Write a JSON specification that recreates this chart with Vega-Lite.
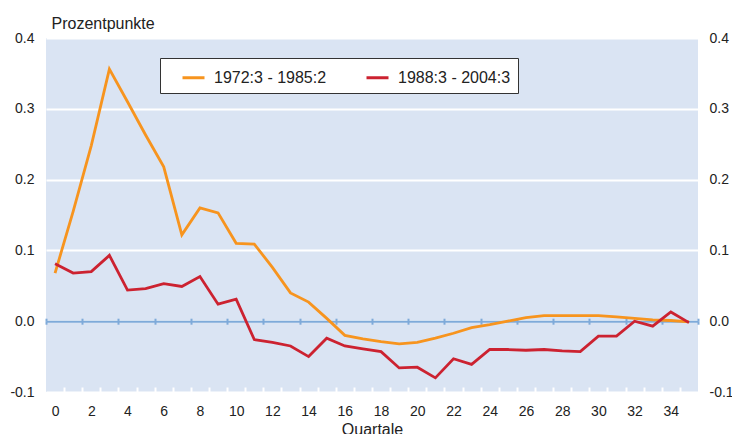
{
  "$schema": "https://vega.github.io/schema/vega-lite/v6.json",
  "width": 652,
  "height": 354,
  "autosize": "none",
  "padding": {"left": 46, "top": 38, "right": 34, "bottom": 42},
  "background": "white",
  "config": {
    "view": {"fill": "#dae4f3", "stroke": null},
    "font": "Liberation Sans",
    "axis": {"labelFont": "Liberation Sans", "labelFontSize": 14, "labelColor": "#222", "titleFont": "Liberation Sans", "titleFontSize": 16, "titleFontWeight": "normal", "titleColor": "#222"},
    "legend": {"labelFont": "Liberation Sans", "labelFontSize": 16, "labelColor": "#222"}
  },
  "data": {
    "values": [
      {"q": 0, "v": 0.068, "s": "1972:3 - 1985:2"},
      {"q": 1, "v": 0.155, "s": "1972:3 - 1985:2"},
      {"q": 2, "v": 0.248, "s": "1972:3 - 1985:2"},
      {"q": 3, "v": 0.356, "s": "1972:3 - 1985:2"},
      {"q": 4, "v": 0.31, "s": "1972:3 - 1985:2"},
      {"q": 5, "v": 0.263, "s": "1972:3 - 1985:2"},
      {"q": 6, "v": 0.218, "s": "1972:3 - 1985:2"},
      {"q": 7, "v": 0.122, "s": "1972:3 - 1985:2"},
      {"q": 8, "v": 0.16, "s": "1972:3 - 1985:2"},
      {"q": 9, "v": 0.153, "s": "1972:3 - 1985:2"},
      {"q": 10, "v": 0.11, "s": "1972:3 - 1985:2"},
      {"q": 11, "v": 0.109, "s": "1972:3 - 1985:2"},
      {"q": 12, "v": 0.076, "s": "1972:3 - 1985:2"},
      {"q": 13, "v": 0.04, "s": "1972:3 - 1985:2"},
      {"q": 14, "v": 0.027, "s": "1972:3 - 1985:2"},
      {"q": 15, "v": 0.004, "s": "1972:3 - 1985:2"},
      {"q": 16, "v": -0.02, "s": "1972:3 - 1985:2"},
      {"q": 17, "v": -0.025, "s": "1972:3 - 1985:2"},
      {"q": 18, "v": -0.029, "s": "1972:3 - 1985:2"},
      {"q": 19, "v": -0.032, "s": "1972:3 - 1985:2"},
      {"q": 20, "v": -0.03, "s": "1972:3 - 1985:2"},
      {"q": 21, "v": -0.024, "s": "1972:3 - 1985:2"},
      {"q": 22, "v": -0.017, "s": "1972:3 - 1985:2"},
      {"q": 23, "v": -0.009, "s": "1972:3 - 1985:2"},
      {"q": 24, "v": -0.005, "s": "1972:3 - 1985:2"},
      {"q": 25, "v": 0.0, "s": "1972:3 - 1985:2"},
      {"q": 26, "v": 0.005, "s": "1972:3 - 1985:2"},
      {"q": 27, "v": 0.008, "s": "1972:3 - 1985:2"},
      {"q": 28, "v": 0.008, "s": "1972:3 - 1985:2"},
      {"q": 29, "v": 0.008, "s": "1972:3 - 1985:2"},
      {"q": 30, "v": 0.008, "s": "1972:3 - 1985:2"},
      {"q": 31, "v": 0.006, "s": "1972:3 - 1985:2"},
      {"q": 32, "v": 0.004, "s": "1972:3 - 1985:2"},
      {"q": 33, "v": 0.002, "s": "1972:3 - 1985:2"},
      {"q": 34, "v": 0.001, "s": "1972:3 - 1985:2"},
      {"q": 35, "v": -0.001, "s": "1972:3 - 1985:2"},
      {"q": 0, "v": 0.081, "s": "1988:3 - 2004:3"},
      {"q": 1, "v": 0.068, "s": "1988:3 - 2004:3"},
      {"q": 2, "v": 0.07, "s": "1988:3 - 2004:3"},
      {"q": 3, "v": 0.093, "s": "1988:3 - 2004:3"},
      {"q": 4, "v": 0.044, "s": "1988:3 - 2004:3"},
      {"q": 5, "v": 0.046, "s": "1988:3 - 2004:3"},
      {"q": 6, "v": 0.053, "s": "1988:3 - 2004:3"},
      {"q": 7, "v": 0.049, "s": "1988:3 - 2004:3"},
      {"q": 8, "v": 0.063, "s": "1988:3 - 2004:3"},
      {"q": 9, "v": 0.024, "s": "1988:3 - 2004:3"},
      {"q": 10, "v": 0.031, "s": "1988:3 - 2004:3"},
      {"q": 11, "v": -0.026, "s": "1988:3 - 2004:3"},
      {"q": 12, "v": -0.03, "s": "1988:3 - 2004:3"},
      {"q": 13, "v": -0.035, "s": "1988:3 - 2004:3"},
      {"q": 14, "v": -0.05, "s": "1988:3 - 2004:3"},
      {"q": 15, "v": -0.024, "s": "1988:3 - 2004:3"},
      {"q": 16, "v": -0.035, "s": "1988:3 - 2004:3"},
      {"q": 17, "v": -0.039, "s": "1988:3 - 2004:3"},
      {"q": 18, "v": -0.043, "s": "1988:3 - 2004:3"},
      {"q": 19, "v": -0.066, "s": "1988:3 - 2004:3"},
      {"q": 20, "v": -0.065, "s": "1988:3 - 2004:3"},
      {"q": 21, "v": -0.08, "s": "1988:3 - 2004:3"},
      {"q": 22, "v": -0.053, "s": "1988:3 - 2004:3"},
      {"q": 23, "v": -0.061, "s": "1988:3 - 2004:3"},
      {"q": 24, "v": -0.04, "s": "1988:3 - 2004:3"},
      {"q": 25, "v": -0.04, "s": "1988:3 - 2004:3"},
      {"q": 26, "v": -0.041, "s": "1988:3 - 2004:3"},
      {"q": 27, "v": -0.04, "s": "1988:3 - 2004:3"},
      {"q": 28, "v": -0.042, "s": "1988:3 - 2004:3"},
      {"q": 29, "v": -0.043, "s": "1988:3 - 2004:3"},
      {"q": 30, "v": -0.021, "s": "1988:3 - 2004:3"},
      {"q": 31, "v": -0.021, "s": "1988:3 - 2004:3"},
      {"q": 32, "v": 0.0, "s": "1988:3 - 2004:3"},
      {"q": 33, "v": -0.007, "s": "1988:3 - 2004:3"},
      {"q": 34, "v": 0.013, "s": "1988:3 - 2004:3"},
      {"q": 35, "v": -0.002, "s": "1988:3 - 2004:3"}
    ]
  },
  "resolve": {"axis": {"x": "independent", "y": "independent"}},
  "layer": [
    {
      "mark": {"type": "line", "opacity": 0},
      "encoding": {
        "x": {"field": "q", "type": "quantitative",
          "scale": {"domain": [-0.5, 35.5], "nice": false, "zero": false},
          "axis": {"orient": "bottom", "values": [-0.5, 1.5, 3.5, 5.5, 7.5, 9.5, 11.5, 13.5, 15.5, 17.5, 19.5, 21.5, 23.5, 25.5, 27.5, 29.5, 31.5, 33.5, 35.5],
            "offset": -70.8, "domain": true, "domainColor": "#7eaad9", "domainWidth": 2,
            "ticks": true, "tickColor": "#7eaad9", "tickWidth": 2, "tickSize": 3,
            "labels": false, "grid": false, "title": null}},
        "y": {"field": "v", "type": "quantitative",
          "scale": {"domain": [-0.1, 0.4], "nice": false},
          "axis": null},
        "detail": {"field": "s"}
      }
    },
    {
      "mark": {"type": "line", "opacity": 0},
      "encoding": {
        "x": {"field": "q", "type": "quantitative",
          "axis": {"orient": "bottom", "values": [-0.5, 1.5, 3.5, 5.5, 7.5, 9.5, 11.5, 13.5, 15.5, 17.5, 19.5, 21.5, 23.5, 25.5, 27.5, 29.5, 31.5, 33.5, 35.5],
            "offset": -73.8, "domain": false,
            "ticks": true, "tickColor": "#7eaad9", "tickWidth": 2, "tickSize": 3,
            "labels": false, "grid": false, "title": null}},
        "y": {"field": "v", "type": "quantitative",
          "axis": {"orient": "right", "values": [-0.1, 0, 0.1, 0.2, 0.3, 0.4],
            "labelExpr": "datum.value < 0 ? '-' + format(-datum.value, '.1f') : format(datum.value, '.1f')",
            "domain": false, "ticks": false, "grid": false, "labelPadding": 11, "title": null}},
        "detail": {"field": "s"}
      }
    },
    {
      "mark": {"type": "line", "strokeWidth": 2.8},
      "encoding": {
        "x": {"field": "q", "type": "quantitative",
          "axis": {"orient": "bottom", "values": [0, 2, 4, 6, 8, 10, 12, 14, 16, 18, 20, 22, 24, 26, 28, 30, 32, 34],
            "domain": false, "ticks": false, "grid": false, "labelPadding": 12,
            "title": "Quartale", "titlePadding": 3}},
        "y": {"field": "v", "type": "quantitative",
          "axis": {"orient": "left", "values": [-0.1, 0, 0.1, 0.2, 0.3, 0.4],
            "labelExpr": "datum.value < 0 ? '-' + format(-datum.value, '.1f') : format(datum.value, '.1f')",
            "domain": false, "ticks": false, "grid": true, "gridColor": "white", "gridWidth": 2, "gridOpacity": 1,
            "labelPadding": 12,
            "title": "Prozentpunkte", "titleAngle": 0, "titleAlign": "left", "titleBaseline": "alphabetic",
            "titleX": 5, "titleY": -10}},
        "color": {"field": "s", "type": "nominal",
          "scale": {"domain": ["1972:3 - 1985:2", "1988:3 - 2004:3"], "range": ["#f7941e", "#cc2230"]},
          "legend": {"orient": "none", "legendX": 114, "legendY": 20, "direction": "horizontal",
            "title": null, "fillColor": "white", "strokeColor": "#333", "padding": 7,
            "symbolType": "stroke", "symbolStrokeWidth": 3, "symbolSize": 484, "symbolOffset": 14,
            "labelOffset": 8, "columnPadding": 24}}
      }
    },
    {
      "mark": {"type": "line", "opacity": 0},
      "encoding": {
        "x": {"field": "q", "type": "quantitative",
          "axis": {"orient": "bottom", "values": [0.5, 1.5, 2.5, 3.5, 4.5, 5.5, 6.5, 7.5, 8.5, 9.5, 10.5, 11.5, 12.5, 13.5, 14.5, 15.5, 16.5, 17.5, 18.5, 19.5, 20.5, 21.5, 22.5, 23.5, 24.5, 25.5, 26.5, 27.5, 28.5, 29.5, 30.5, 31.5, 32.5, 33.5, 34.5],
            "offset": -5, "domain": false,
            "ticks": true, "tickColor": "white", "tickWidth": 2, "tickSize": 5,
            "labels": false, "grid": false, "title": null}},
        "y": {"field": "v", "type": "quantitative", "axis": null},
        "detail": {"field": "s"}
      }
    }
  ]
}
